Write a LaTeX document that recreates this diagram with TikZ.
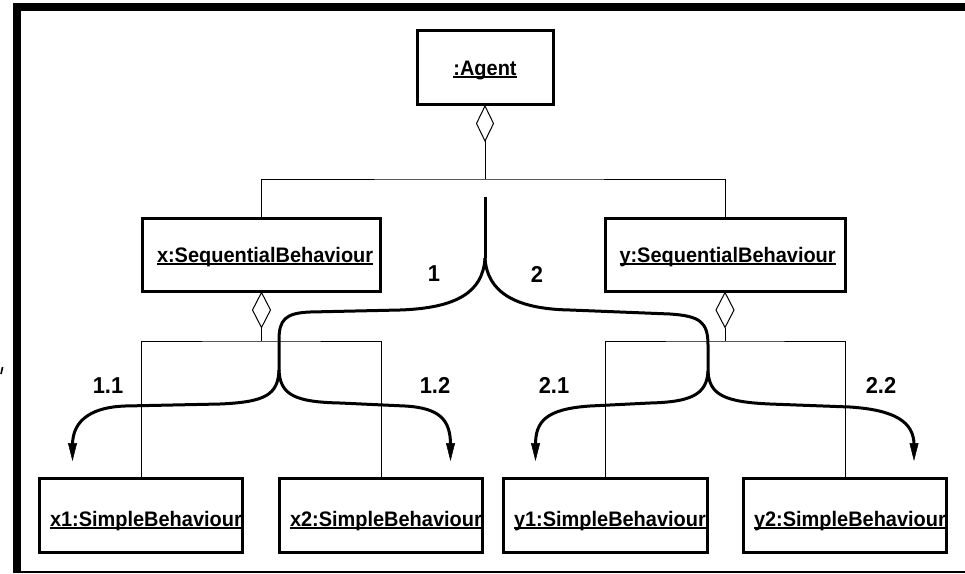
\documentclass[tikz,border=0pt]{standalone}
\usepackage{fontspec}
\setmainfont{Liberation Sans}
\newfontfamily\diagfont[FakeStretch=0.95]{Liberation Sans}
\usetikzlibrary{arrows.meta}
% underlined object name, rule crossing the descenders
\newcommand{\ulname}[1]{\setbox0\hbox{#1}\rlap{\copy0}\rule[-3pt]{\wd0}{1.8pt}}
\newcommand{\objtext}[2]{\makebox[#1][l]{\ulname{#2}}}
\begin{document}
\begin{tikzpicture}[x=1pt,y=-1pt,
  obj/.style={draw,line width=3pt,inner sep=0pt,
    font=\diagfont\fontsize{21}{25}\selectfont\bfseries,text height=15pt,text depth=0pt},
  seqobj/.style={obj,inner xsep=14.5pt,minimum height=73pt},
  leafobj/.style={obj,inner xsep=10.5pt,minimum height=74pt,text height=22pt},
  link/.style={line width=1pt},
  msg/.style={line width=3pt,line join=round},
  msgtip/.style={msg,-{Triangle[length=18pt,width=9pt,line width=0.5pt]}},
  seqno/.style={font=\diagfont\fontsize{23}{27}\selectfont\bfseries,inner sep=0pt}]

\useasboundingbox (0,0) rectangle (965,573);

% frame
\fill (13,3) rectangle (965,11);
\fill (13,3) rectangle (21,573);
\fill (21,570.5) rectangle (965,572.5);
\draw[line width=1.6pt] (2.6,367) -- (1,374);

% objects
\node[obj,minimum width=136pt,minimum height=74pt] (agent) at (485,67.5) {\ulname{:Agent}};
\node[seqobj] (xs) at (261.5,254.5) {\objtext{209pt}{x:SequentialBehaviour}};
\node[seqobj] (ys) at (725,254.5) {\objtext{211pt}{y:SequentialBehaviour}};
\node[leafobj] (x1) at (141,515) {\objtext{182pt}{x1:SimpleBehaviour}};
\node[leafobj] (x2) at (381,515) {\objtext{182pt}{x2:SimpleBehaviour}};
\node[leafobj] (y1) at (605.5,515) {\objtext{183pt}{y1:SimpleBehaviour}};
\node[leafobj] (y2) at (845,515) {\objtext{182pt}{y2:SimpleBehaviour}};

% aggregation trees
\coordinate (bus0) at (485,179);
\coordinate (busx) at (261.5,341);
\coordinate (busy) at (725,341);
\draw[link] (agent.south) -- ++(8.5,17.5) -- ++(-8.5,17.5) coordinate (dag) -- ++(-8.5,-17.5) -- cycle;
\draw[link] (dag) -- (bus0);
\draw[link] (xs.north) |- (bus0) -| (ys.north);
\draw[link] (xs.south) -- ++(9,17.5) -- ++(-9,17.5) coordinate (dxs) -- ++(-9,-17.5) -- cycle;
\draw[link] (dxs) -- (busx);
\draw[link] (x1.north) |- (busx) -| (x2.north);
\draw[link] (ys.south) -- ++(9,17.5) -- ++(-9,17.5) coordinate (dys) -- ++(-9,-17.5) -- cycle;
\draw[link] (dys) -- (busy);
\draw[link] (y1.north) |- (busy) -| (y2.north);

% message flow
\coordinate (m0) at (485,197);
\coordinate (m1) at (485,258);
\coordinate (s1) at (279,370);
\coordinate (s2) at (708,371);
\coordinate (t11) at (72.5,461);
\coordinate (t12) at (450.5,461);
\coordinate (t21) at (535.5,461);
\coordinate (t22) at (914,461);

\draw[msg] (m0) -- (m1);
\draw[msg] (m1) .. controls (483,292) and (457,308) .. (400,310)
  -- (310,312) .. controls (285,313) and (279,320) .. (279,340) -- (s1);
\draw[msg] (m1) .. controls (487,292) and (515,309) .. (570,310)
  -- (670,314) .. controls (700,316) and (708,322) .. (708,345) -- (s2);
\draw[msgtip] (s1) .. controls (278,395) and (265,402) .. (220,404)
  -- (125,406) .. controls (95,407) and (72.5,418) .. (72.5,445) -- (t11);
\draw[msgtip] (s1) .. controls (280,395) and (295,402) .. (340,403)
  -- (405,406) .. controls (440,408) and (450.5,420) .. (450.5,445) -- (t12);
\draw[msgtip] (s2) .. controls (707,395) and (690,402) .. (650,403)
  -- (590,406) .. controls (545,409) and (535.5,422) .. (535.5,445) -- (t21);
\draw[msgtip] (s2) .. controls (709,395) and (725,402) .. (770,404)
  -- (850,407) .. controls (895,410) and (914,422) .. (914,445) -- (t22);

% sequence numbers
\node[seqno] (n1) at (434,274) {1};
\node[seqno] (n2) at (537,274) {2};
\node[seqno] (n11) at (108,386) {1.1};
\node[seqno] (n12) at (435,385) {1.2};
\node[seqno] (n21) at (554,385) {2.1};
\node[seqno] (n22) at (881,385) {2.2};
\end{tikzpicture}
\end{document}
